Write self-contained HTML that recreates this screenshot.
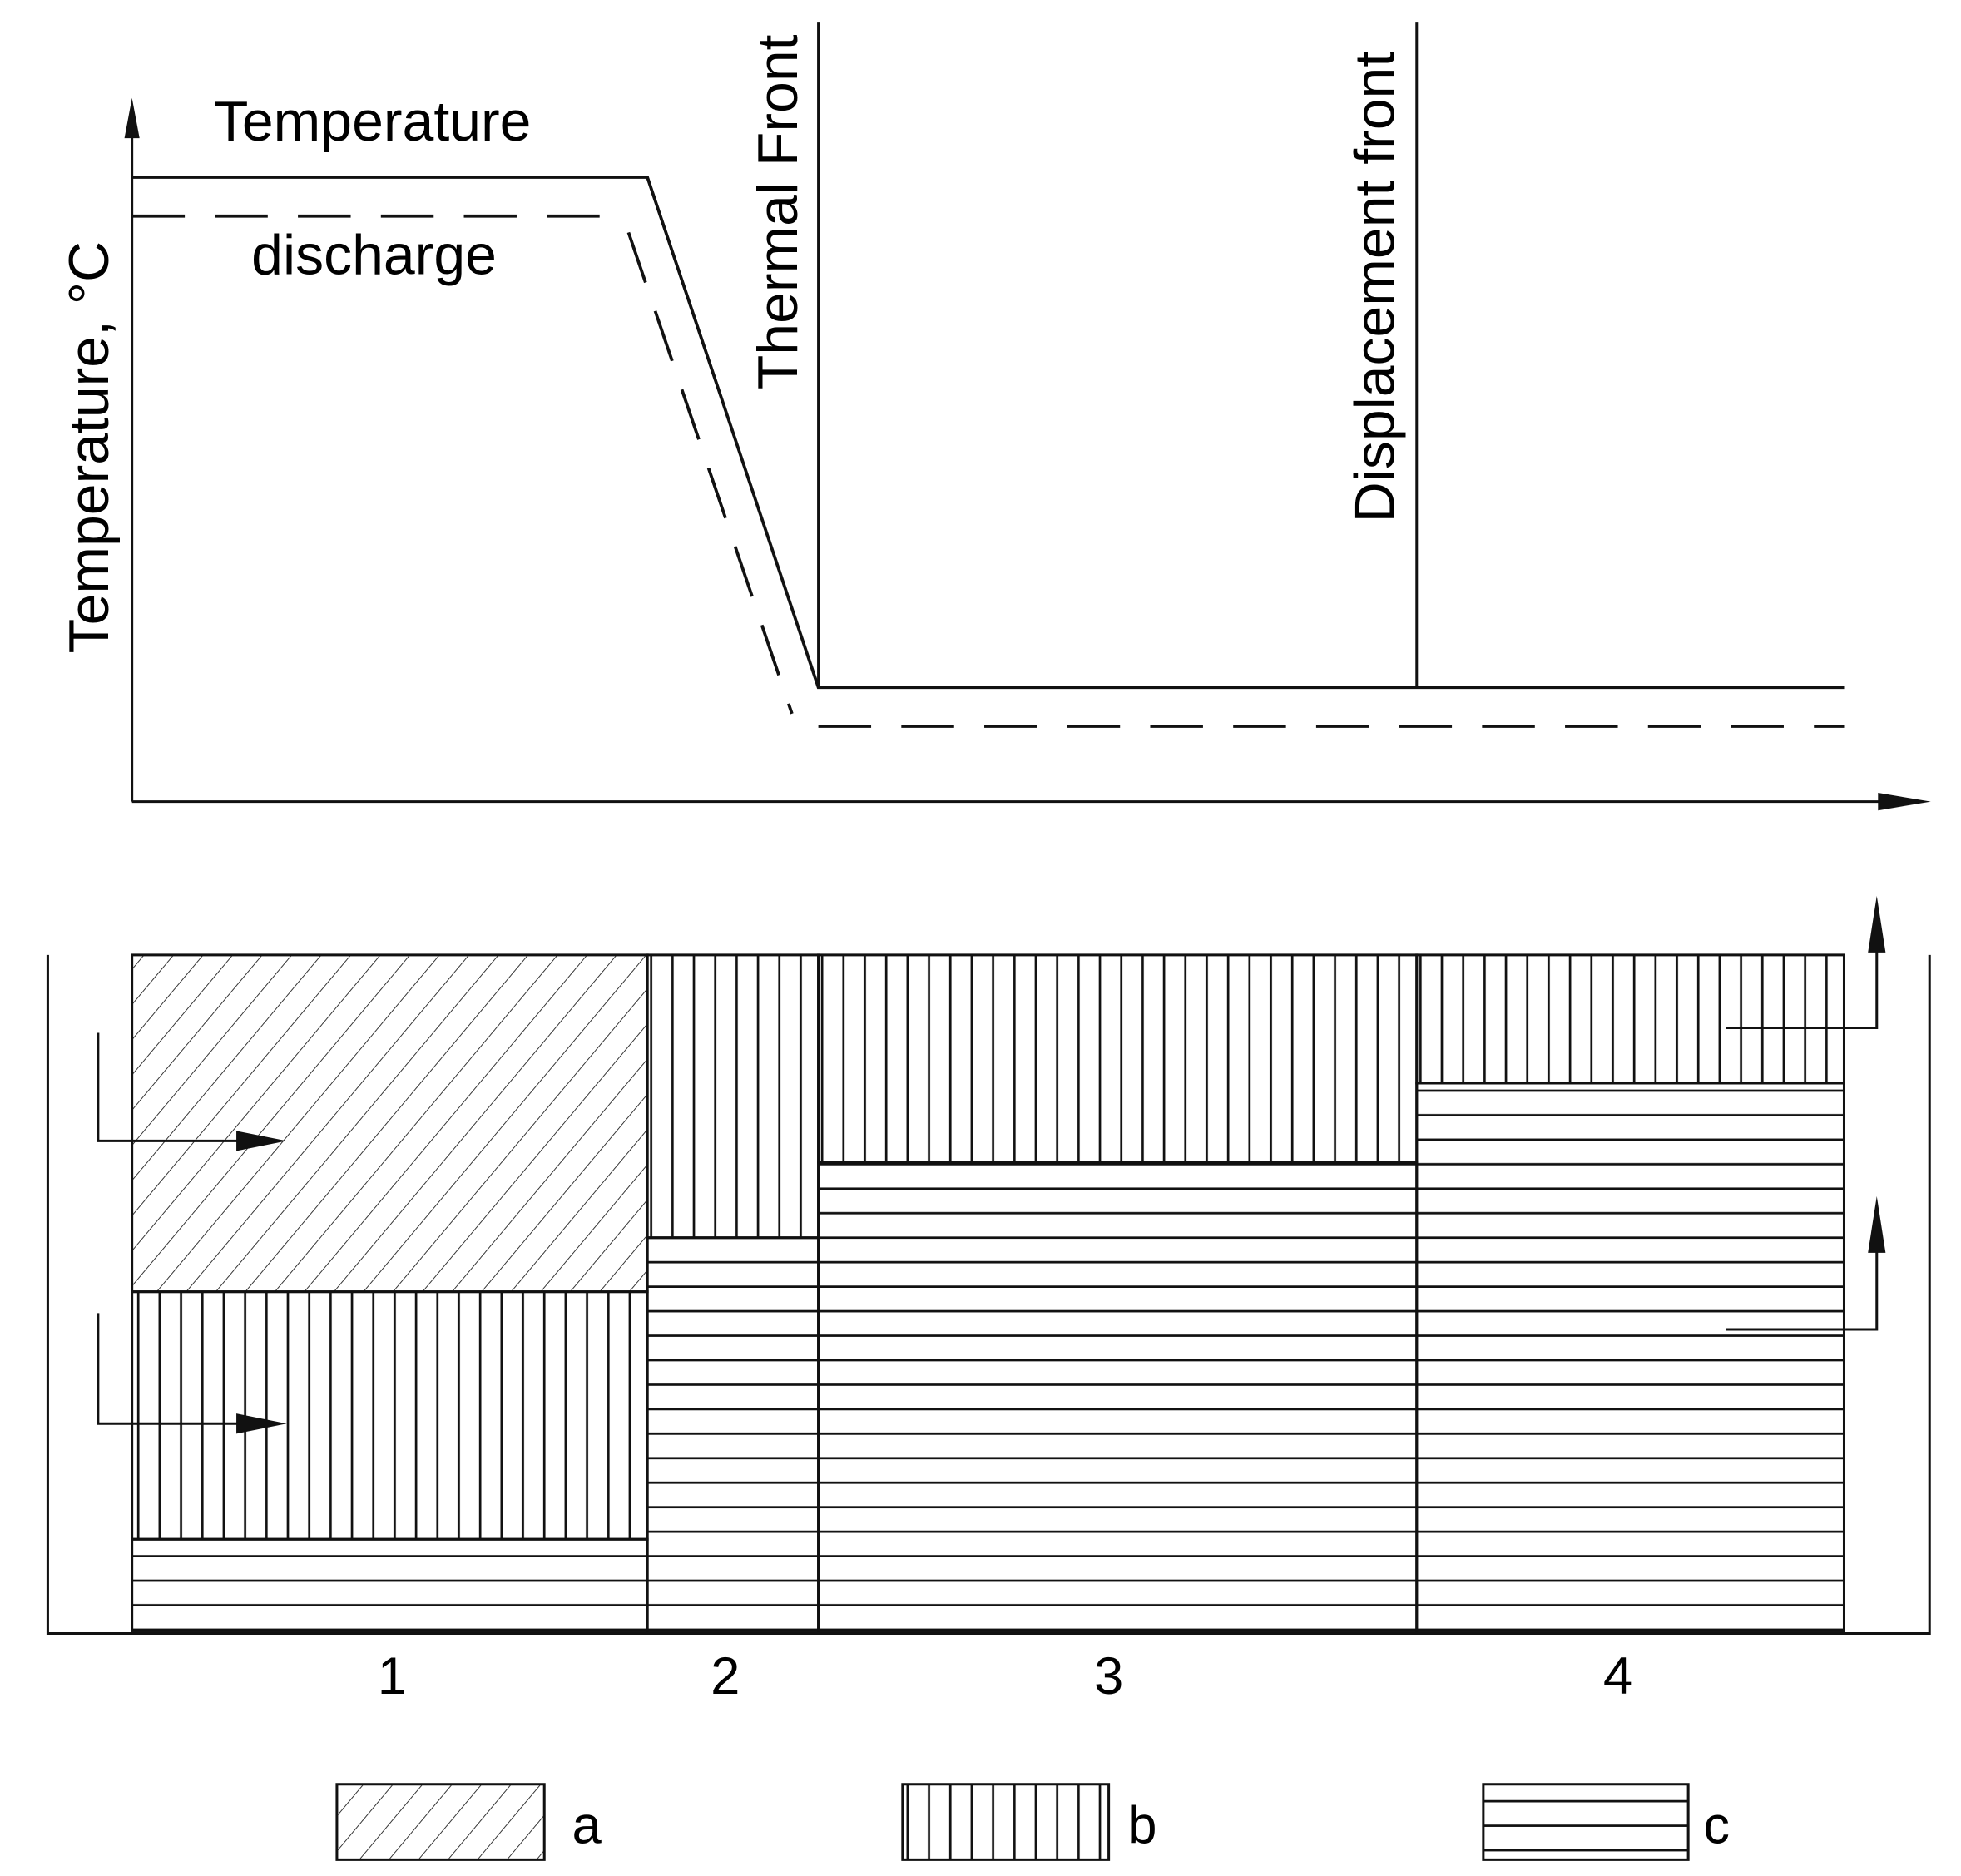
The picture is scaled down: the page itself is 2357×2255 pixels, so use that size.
<!DOCTYPE html>
<html><head><meta charset="utf-8"><style>html,body{margin:0;padding:0;background:#fff}svg{display:block}</style></head>
<body>
<svg width="2357" height="2255" viewBox="0 0 1560 1493" preserveAspectRatio="none" xmlns="http://www.w3.org/2000/svg" font-family="Liberation Sans, Arial, sans-serif">
<defs>
<pattern id="pa" patternUnits="userSpaceOnUse" width="18" height="18" patternTransform="rotate(40)">
<line x1="0" y1="0" x2="0" y2="18" stroke="#222" stroke-width="1.2"/></pattern>
<pattern id="pb" patternUnits="userSpaceOnUse" width="17" height="20">
<line x1="8" y1="0" x2="8" y2="20" stroke="#111" stroke-width="1.8"/></pattern>
<pattern id="pc" patternUnits="userSpaceOnUse" width="20" height="19.5">
<line x1="0" y1="10" x2="20" y2="10" stroke="#111" stroke-width="1.8"/></pattern>
</defs>
<g stroke="#111" stroke-width="2" fill="none">
<line x1="105" y1="95" x2="105" y2="638"/>
<line x1="105" y1="638" x2="1500" y2="638"/>
<polyline points="105,141 515,141 651,547 1467,547" stroke-width="2.5"/>
<polyline points="105,172 500,172" stroke-width="2.5" stroke-dasharray="42,24"/>
<polyline points="500,185 630,568" stroke-width="2.5" stroke-dasharray="42,24"/>
<polyline points="651,578 1467,578" stroke-width="2.5" stroke-dasharray="42,24"/>
<line x1="651" y1="18" x2="651" y2="547"/>
<line x1="1127" y1="18" x2="1127" y2="547"/>
</g>
<polygon points="105,78 99,110 111,110" fill="#111"/>
<polygon points="1536,638 1494,631 1494,645" fill="#111"/>
<text x="170" y="112" font-size="45">Temperature</text>
<text x="200" y="218" font-size="45">discharge</text>
<text transform="translate(634,310) rotate(-90)" font-size="45">Thermal Front</text>
<text transform="translate(1109,416) rotate(-90)" font-size="45">Displacement front</text>
<text transform="translate(86,520) rotate(-90)" font-size="45">Temperature, °C</text>
<polyline points="38,760 38,1300 1535,1300 1535,760" fill="none" stroke="#111" stroke-width="2"/>
<g stroke="#111" stroke-width="2">
<rect x="105" y="760" width="410" height="268" fill="url(#pa)"/>
<rect x="105" y="1028" width="410" height="197" fill="url(#pb)"/>
<rect x="105" y="1225" width="410" height="73" fill="url(#pc)"/>
<rect x="515" y="760" width="136" height="225" fill="url(#pb)"/>
<rect x="515" y="985" width="136" height="313" fill="url(#pc)"/>
<rect x="651" y="760" width="476" height="165" fill="url(#pb)"/>
<rect x="651" y="925" width="476" height="373" fill="url(#pc)"/>
<rect x="1127" y="760" width="340" height="102" fill="url(#pb)"/>
<rect x="1127" y="862" width="340" height="436" fill="url(#pc)"/>
</g>
<g stroke="#111" stroke-width="2" fill="none">
<polyline points="78,822 78,908 200,908"/>
<polyline points="78,1045 78,1133 200,1133"/>
<polyline points="1373,818 1493,818 1493,745"/>
<polyline points="1373,1058 1493,1058 1493,985"/>
</g>
<polygon points="228,908 188,900 188,916" fill="#111"/>
<polygon points="228,1133 188,1125 188,1141" fill="#111"/>
<polygon points="1493,713 1486,758 1500,758" fill="#111"/>
<polygon points="1493,952 1486,997 1500,997" fill="#111"/>
<g font-size="42" text-anchor="middle">
<text x="312" y="1348">1</text><text x="577" y="1348">2</text><text x="882" y="1348">3</text><text x="1287" y="1348">4</text>
</g>
<g stroke="#111" stroke-width="2">
<rect x="268" y="1420" width="165" height="60" fill="url(#pa)"/>
<rect x="718" y="1420" width="164" height="60" fill="url(#pb)"/>
<rect x="1180" y="1420" width="163" height="60" fill="url(#pc)"/>
</g>
<text x="455" y="1467" font-size="42">a</text>
<text x="897" y="1467" font-size="42">b</text>
<text x="1355" y="1467" font-size="42">c</text>
</svg>
</body></html>
